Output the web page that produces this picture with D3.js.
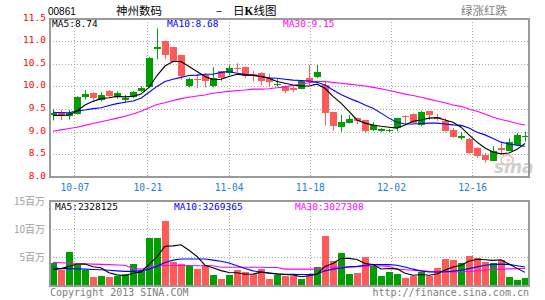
<!DOCTYPE html>
<html>
<head>
<meta charset="utf-8">
<script src="https://d3js.org/d3.v7.min.js"></script>
<title>00861 日K线图</title>
<style>
  body { margin: 0; background: #fff; }
  svg text { font-family: 'DejaVu Sans Mono', monospace; font-size: 9.5px; }
  .cjk { font-family: 'Noto Sans CJK SC', sans-serif !important; }
  .grid { stroke: #a8a8a8; stroke-dasharray: 1,2; shape-rendering: crispEdges; }
  .frame { fill: none; stroke: #9a9a9a; stroke-width: 2; shape-rendering: crispEdges; }
  .domain { display: none; }
</style>
</head>
<body>
<svg width="545" height="300"></svg>
<script>
// trading days (HK), Oct - Dec 2013
const days = ['10-02','10-03','10-04','10-07','10-08','10-09','10-10','10-11','10-15','10-16',
  '10-17','10-18','10-21','10-22','10-23','10-24','10-25','10-28','10-29','10-30',
  '10-31','11-01','11-04','11-05','11-06','11-07','11-08','11-11','11-12','11-13',
  '11-14','11-15','11-18','11-19','11-20','11-21','11-22','11-25','11-26','11-27',
  '11-28','11-29','12-02','12-03','12-04','12-05','12-06','12-09','12-10','12-11',
  '12-12','12-13','12-16','12-17','12-18','12-19','12-20','12-23','12-24','12-27'];
const dateTicks = ['10-07','10-21','11-04','11-18','12-02','12-16'];

const open = [9.37,9.43,9.34,9.39,9.77,9.86,9.70,9.91,9.77,9.71,
  9.76,9.89,9.99,10.82,11.01,10.87,10.69,10.00,10.17,10.25,
  10.00,10.33,10.29,10.41,10.42,10.28,10.30,10.19,10.03,10.02,
  9.97,9.95,10.19,10.21,10.03,9.43,9.10,9.19,9.30,9.25,
  9.03,9.01,9.01,9.08,9.35,9.39,9.14,9.46,9.32,9.24,
  9.04,8.86,8.85,8.64,8.48,8.35,8.64,8.58,8.70,8.89];
const close = [9.42,9.35,9.42,9.76,9.83,9.74,9.81,9.78,9.85,9.75,
  9.88,9.97,10.63,10.86,10.70,10.55,10.22,10.16,10.15,10.12,
  10.19,10.18,10.40,10.39,10.22,10.25,10.11,10.09,10.06,9.90,
  9.93,10.11,10.09,10.31,9.42,9.12,9.21,9.29,9.24,9.01,
  9.14,9.07,9.04,9.30,9.32,9.19,9.43,9.36,9.30,9.01,
  8.88,8.90,8.52,8.46,8.38,8.58,8.60,8.77,8.92,8.91];
const high = [9.50,9.48,9.48,9.78,9.92,9.87,9.87,9.92,9.89,9.81,
  9.90,10.00,10.65,11.28,11.01,10.88,10.70,10.19,10.27,10.29,
  10.42,10.34,10.47,10.51,10.44,10.34,10.31,10.28,10.16,10.03,
  9.99,10.12,10.47,10.47,10.11,9.44,9.37,9.37,9.31,9.26,
  9.21,9.08,9.06,9.31,9.36,9.40,9.46,9.46,9.39,9.30,
  9.08,8.99,8.86,8.66,8.53,8.68,8.75,8.85,8.97,9.00];
const low = [9.25,9.26,9.27,9.38,9.71,9.70,9.67,9.77,9.73,9.64,
  9.74,9.88,9.98,10.60,10.60,10.53,10.15,9.98,9.97,9.98,
  9.98,10.11,10.25,10.29,10.19,10.11,10.02,10.00,10.00,9.85,
  9.87,9.94,10.03,10.18,9.14,9.02,9.00,9.18,9.17,8.97,
  9.01,8.99,8.99,9.01,9.15,9.18,9.12,9.26,9.24,9.00,
  8.87,8.82,8.51,8.42,8.31,8.35,8.51,8.57,8.68,8.78];

const ma5 = [9.36,9.36,9.37,9.46,9.59,9.67,9.73,9.75,9.78,9.77,
  9.78,9.83,9.98,10.24,10.45,10.55,10.55,10.44,10.33,10.22,
  10.15,10.16,10.22,10.27,10.25,10.25,10.22,10.18,10.11,10.07,
  10.03,10.01,10.01,10.05,9.96,9.78,9.63,9.45,9.26,9.19,
  9.15,9.12,9.10,9.08,9.15,9.23,9.26,9.30,9.31,9.26,
  9.21,9.10,8.93,8.77,8.64,8.55,8.51,8.53,8.61,8.74];
const ma10 = [9.43,9.42,9.42,9.46,9.48,9.51,9.53,9.58,9.62,9.65,
  9.68,9.74,9.87,10.00,10.11,10.16,10.20,10.24,10.25,10.27,
  10.27,10.31,10.33,10.29,10.27,10.24,10.22,10.19,10.18,10.16,
  10.14,10.13,10.12,10.09,10.03,9.92,9.82,9.74,9.67,9.59,
  9.52,9.41,9.30,9.21,9.17,9.17,9.18,9.19,9.19,9.17,
  9.15,9.14,9.08,8.99,8.93,8.85,8.77,8.73,8.70,8.68];
const ma30 = [9.01,9.04,9.07,9.10,9.14,9.18,9.22,9.26,9.30,9.34,
  9.39,9.45,9.53,9.60,9.64,9.69,9.73,9.76,9.79,9.81,
  9.85,9.87,9.89,9.91,9.92,9.94,9.94,9.95,9.97,9.99,
  10.02,10.05,10.08,10.11,10.11,10.09,10.07,10.05,10.03,10.01,
  9.98,9.95,9.91,9.87,9.83,9.80,9.76,9.72,9.68,9.64,
  9.59,9.56,9.50,9.45,9.39,9.32,9.27,9.23,9.18,9.15];

// volume in millions
const volume = [3.94,2.76,6.0,3.6,2.76,1.59,1.76,1.59,1.76,2.0,
  3.8,2.76,8.47,8.47,11.4,4.12,3.76,3.53,2.94,3.65,
  1.88,1.18,1.88,2.76,2.35,2.0,2.88,1.18,1.88,1.76,
  1.76,1.18,2.0,3.24,8.76,4.35,5.7,2.0,2.29,5.12,
  3.53,1.76,2.35,2.0,1.29,1.76,2.35,1.76,3.06,4.7,
  4.53,3.94,5.24,4.94,4.24,3.94,4.53,1.47,1.0,1.29];
const volMa5 = [2.8,3.0,3.4,3.8,3.81,3.34,3.14,2.26,1.89,1.74,
  2.17,2.37,3.75,5.09,6.97,7.04,7.24,6.26,5.15,3.6,
  3.15,2.64,2.31,2.27,2.01,2.03,2.37,2.23,2.06,1.94,
  1.89,1.55,1.72,1.99,3.39,3.9,4.81,4.81,4.62,3.89,
  3.73,2.94,3.01,2.95,2.19,1.83,1.95,1.83,2.04,2.73,
  3.28,3.6,4.29,4.67,4.58,4.46,4.58,3.82,3.04,2.33];
const volMa10 = [3.1,3.0,3.0,2.95,2.9,2.85,2.8,2.7,2.6,2.5,
  2.5,2.6,2.9,3.4,4.1,4.5,4.7,4.7,4.7,4.7,
  4.5,4.3,4.0,3.5,3.0,2.6,2.4,2.2,2.05,2.0,
  1.98,1.96,1.98,2.05,2.6,2.9,3.1,3.3,3.4,3.6,
  3.7,3.7,3.7,3.6,3.3,2.9,2.6,2.4,2.4,2.45,
  2.55,2.7,3.0,3.3,3.6,3.75,3.8,3.75,3.5,3.27];
const volMa30 = [4.1,4.05,4.0,3.9,3.85,3.8,3.75,3.7,3.65,3.6,
  3.0,2.9,3.3,3.5,3.55,3.55,3.55,3.55,3.5,3.5,
  3.5,3.25,3.25,3.25,3.25,3.25,3.25,3.2,3.2,2.9,
  2.9,2.9,2.9,2.9,3.25,3.25,3.3,3.3,3.35,3.4,
  3.45,3.45,3.4,2.9,2.8,2.7,2.6,2.5,2.45,2.4,
  2.4,2.45,2.5,2.6,2.75,2.85,2.9,2.95,3.0,3.03];

const priceTicks = [8.0, 8.5, 9.0, 9.5, 10.0, 10.5, 11.0, 11.5];
const volTicks = [5, 10, 15];
const maLabels = ['MA5:8.74', 'MA10:8.68', 'MA30:9.15'];
const volMaLabels = ['MA5:2328125', 'MA10:3269365', 'MA30:3027308'];

const UP = '#009f00', DOWN = '#ff5a5a';
const maColors = ['#000000', '#0000ff', '#ff00ff'];

const svg = d3.select('svg');
const left = 50, right = 529;
const priceTop = 18.5, priceBottom = 177;
const volTop = 201, volBottom = 285.5;

const n = days.length;
const cx = d3.scaleLinear().domain([0, n - 1]).range([53, 525]);
const gx = d3.scaleLinear().domain([0, n - 1]).range([left, right]);
const py = d3.scaleLinear().domain([8, 11.5]).range([priceBottom, priceTop]);
const vy = d3.scaleLinear().domain([0, 15]).range([volBottom, volTop]);
const tickIdx = dateTicks.map(d => days.indexOf(d));

// grid
const grid = svg.append('g');
grid.selectAll('.hp').data(priceTicks.slice(1, -1)).enter().append('line')
  .attr('class', 'grid').attr('x1', left).attr('x2', right)
  .attr('y1', d => Math.round(py(d)) + 0.5).attr('y2', d => Math.round(py(d)) + 0.5);
grid.selectAll('.hv').data(volTicks.slice(0, -1)).enter().append('line')
  .attr('class', 'grid').attr('x1', left).attr('x2', right)
  .attr('y1', d => Math.round(vy(d)) + 0.5).attr('y2', d => Math.round(vy(d)) + 0.5);
[[priceTop, priceBottom], [volTop, volBottom]].forEach(r => {
  grid.selectAll(null).data(tickIdx).enter().append('line')
    .attr('class', 'grid')
    .attr('x1', d => Math.round(gx(d)) + 0.5).attr('x2', d => Math.round(gx(d)) + 0.5)
    .attr('y1', r[0]).attr('y2', r[1]);
});

// moving average lines
const priceLine = d3.line().x((d, i) => cx(i)).y(d => py(d));
const volLine = d3.line().x((d, i) => cx(i)).y(d => vy(d));

// volume bars
svg.append('g').selectAll('rect').data(volume).enter().append('rect')
  .attr('x', (d, i) => Math.round(cx(i)) - 3)
  .attr('width', 7)
  .attr('y', d => vy(d))
  .attr('height', d => volBottom - vy(d))
  .attr('fill', (d, i) => close[i] >= open[i] ? UP : DOWN)
  .attr('shape-rendering', 'crispEdges');

[volMa30, volMa10, volMa5].forEach((s, k) => {
  svg.append('path').attr('fill', 'none')
    .attr('stroke', maColors[2 - k]).attr('stroke-width', 1.1)
    .attr('d', volLine(s));
});

// candles
const candle = svg.append('g').selectAll('g').data(days).enter().append('g')
  .attr('fill', (d, i) => close[i] >= open[i] ? UP : DOWN)
  .attr('stroke', (d, i) => close[i] >= open[i] ? UP : DOWN);
candle.append('line')
  .attr('x1', (d, i) => Math.round(cx(i)) + 0.5).attr('x2', (d, i) => Math.round(cx(i)) + 0.5)
  .attr('y1', (d, i) => py(high[i])).attr('y2', (d, i) => py(low[i]))
  .attr('stroke-width', 1);
candle.append('rect')
  .attr('stroke', 'none')
  .attr('x', (d, i) => Math.round(cx(i)) - 3)
  .attr('width', 7)
  .attr('y', (d, i) => py(Math.max(open[i], close[i])))
  .attr('height', (d, i) => Math.max(1.5, Math.abs(py(open[i]) - py(close[i]))))
  .attr('shape-rendering', 'crispEdges');

[ma30, ma10, ma5].forEach((s, k) => {
  svg.append('path').attr('fill', 'none')
    .attr('stroke', maColors[2 - k]).attr('stroke-width', 1.1)
    .attr('d', priceLine(s));
});

// watermark
const wm = svg.append('g').attr('opacity', 0.5);
wm.append('ellipse').attr('cx', 507).attr('cy', 160).attr('rx', 6).attr('ry', 5)
  .attr('fill', 'none').attr('stroke', '#f08080').attr('stroke-width', 2);
wm.append('text').attr('x', 494).attr('y', 173)
  .style('font-family', 'DejaVu Sans').style('font-size', '17px')
  .style('font-weight', 'bold').style('font-style', 'italic')
  .attr('fill', '#a0a0a0').text('sina');

// frames
svg.append('rect').attr('class', 'frame')
  .attr('x', left).attr('y', priceTop).attr('width', right - left).attr('height', priceBottom - priceTop);
svg.append('rect').attr('class', 'frame')
  .attr('x', left).attr('y', volTop).attr('width', right - left).attr('height', volBottom - volTop);

// axes
const yAxisG = svg.append('g').attr('transform', `translate(${left},0)`)
  .call(d3.axisLeft(py).tickValues(priceTicks).tickFormat(d3.format('.1f')).tickSize(0).tickPadding(4));
yAxisG.selectAll('text').attr('fill', '#ff0000').attr('dy', 1.5);

const xAxisG = svg.append('g').attr('transform', `translate(0,${priceBottom})`)
  .call(d3.axisBottom(gx).tickValues(tickIdx).tickFormat(i => days[i]).tickSize(0).tickPadding(7));
xAxisG.selectAll('text').attr('fill', '#1a80d0').style('font-size', '9.6px');

const vAxisG = svg.append('g').attr('transform', `translate(${left},0)`)
  .call(d3.axisLeft(vy).tickValues(volTicks).tickFormat(d => d + '百万').tickSize(0).tickPadding(5));
vAxisG.selectAll('text').attr('class', 'cjk').attr('fill', '#a0a0a0').style('font-size', '10px');

// MA labels
const maX = [52, 167, 283];
svg.selectAll('.mal').data(maLabels).enter().append('text')
  .attr('x', (d, i) => maX[i]).attr('y', 26.5)
  .attr('fill', (d, i) => maColors[i]).text(d => d);
const vmaX = [55, 174, 295];
svg.selectAll('.vmal').data(volMaLabels).enter().append('text')
  .attr('x', (d, i) => vmaX[i]).attr('y', 210)
  .attr('fill', (d, i) => maColors[i]).text(d => d);

// header
svg.append('text').attr('x', 48).attr('y', 14.5)
  .style('font-family', 'Liberation Sans').style('font-size', '10px').text('00861');
svg.append('text').attr('class', 'cjk').attr('x', 116).attr('y', 14.5)
  .style('font-size', '11.5px').text('神州数码');
svg.append('text').attr('class', 'cjk').attr('x', 216).attr('y', 14.5)
  .style('font-size', '11.5px').text('–');
const title = svg.append('text').attr('class', 'cjk').attr('x', 233).attr('y', 14.5)
  .style('font-size', '11.5px');
title.append('tspan').text('日');
title.append('tspan').style('font-family', 'Liberation Serif').style('font-weight', 'bold').text('K');
title.append('tspan').text('线图');
svg.append('text').attr('class', 'cjk').attr('x', 507).attr('y', 14.5)
  .attr('text-anchor', 'end').attr('fill', '#808080')
  .style('font-size', '11.5px').text('绿涨红跌');

// footer
svg.append('text').attr('x', 50).attr('y', 295.5).attr('fill', '#808080')
  .style('font-size', '10px').text('Copyright 2013 SINA.COM');
svg.append('text').attr('x', 529).attr('y', 295.5).attr('text-anchor', 'end').attr('fill', '#808080')
  .style('font-size', '10px').text('http://finance.sina.com.cn');
</script>
</body>
</html>
